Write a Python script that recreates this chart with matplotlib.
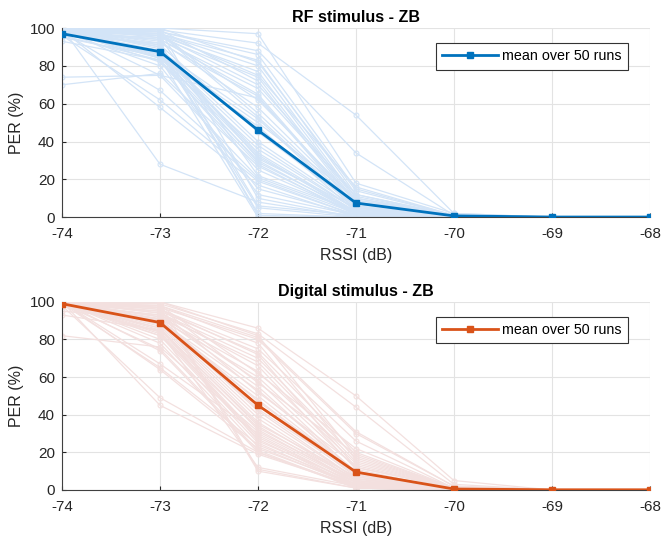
import matplotlib
matplotlib.use("Agg")
import matplotlib.pyplot as plt
import numpy as np

plt.rcParams['font.family'] = ['Liberation Sans', 'DejaVu Sans']

rssi = [-74, -73, -72, -71, -70, -69, -68]
xticklabels = ['-74', '-73', '-72', '-71', '-70', '-69', '-68']

rf_mean = [97, 87.5, 46, 7.5, 0.7, 0.1, 0.1]
dig_mean = [99, 89, 45, 9.5, 0.5, 0.1, 0.1]

rf_runs = [
    [100, 100, 97, 18, 2, 0, 0], [100, 99, 92, 54, 2, 0, 0], [99, 98, 88, 34, 1, 0, 0],
    [100, 98, 86, 15, 1, 0, 0], [98, 97, 83, 12, 1, 0, 0], [100, 97, 80, 10, 1, 0, 0],
    [99, 96, 77, 9, 1, 0, 0], [97, 95, 74, 8, 1, 0, 0], [100, 99, 72, 7, 1, 0, 0],
    [98, 96, 70, 12, 1, 0, 0], [99, 94, 65, 6, 0, 0, 0], [96, 92, 64, 5, 0, 0, 0],
    [74, 75, 63, 8, 1, 0, 0], [100, 98, 55, 6, 0, 0, 0], [99, 97, 53, 5, 0, 0, 0],
    [98, 88, 52, 4, 1, 0, 0], [97, 86, 50, 10, 1, 0, 0], [95, 85, 48, 3, 0, 0, 0],
    [100, 84, 36, 4, 0, 0, 0], [99, 88, 34, 3, 0, 0, 0], [97, 87, 33, 2, 0, 0, 0],
    [100, 90, 31, 5, 1, 0, 0], [93, 83, 30, 2, 0, 0, 0], [98, 86, 29, 3, 0, 0, 0],
    [99, 82, 28, 1, 0, 0, 0], [70, 76, 27, 2, 0, 0, 0], [100, 75, 21, 2, 0, 0, 0],
    [98, 67, 20, 1, 0, 0, 0], [96, 62, 19, 1, 0, 0, 0], [99, 58, 17, 0, 0, 0, 0],
    [100, 28, 8, 0, 0, 0, 0], [97, 99, 10, 0, 0, 0, 0], [100, 92, 6, 1, 0, 0, 0],
    [99, 90, 2, 0, 0, 0, 0], [98, 84, 0, 0, 0, 0, 0], [100, 100, 82, 14, 1, 0, 0],
    [99, 97, 75, 16, 1, 0, 0], [97, 94, 68, 11, 1, 0, 0], [100, 96, 62, 9, 1, 0, 0],
    [99, 93, 58, 7, 1, 0, 0], [98, 91, 45, 6, 0, 0, 0], [100, 89, 40, 5, 0, 0, 0],
    [97, 87, 38, 4, 0, 0, 0], [99, 85, 32, 3, 0, 0, 0], [96, 83, 25, 2, 0, 0, 0],
    [100, 95, 22, 3, 0, 0, 0], [98, 80, 15, 1, 0, 0, 0], [99, 86, 12, 1, 0, 0, 0],
    [97, 88, 5, 0, 0, 0, 0], [100, 91, 1, 0, 0, 0, 0],
]

dig_runs = [
    [100, 100, 86, 50, 5, 0, 0], [100, 99, 83, 44, 3, 0, 0], [99, 98, 81, 31, 2, 0, 0],
    [100, 97, 80, 30, 2, 0, 0], [100, 96, 75, 26, 1, 0, 0], [99, 95, 73, 20, 1, 0, 0],
    [100, 94, 70, 17, 1, 0, 0], [98, 93, 68, 15, 1, 0, 0], [100, 92, 63, 14, 1, 0, 0],
    [95, 91, 60, 12, 1, 0, 0], [100, 90, 53, 10, 0, 0, 0], [99, 89, 50, 9, 0, 0, 0],
    [100, 88, 48, 8, 0, 0, 0], [93, 85, 35, 7, 0, 0, 0], [100, 82, 33, 6, 0, 0, 0],
    [82, 76, 31, 5, 0, 0, 0], [100, 67, 30, 4, 0, 0, 0], [99, 65, 24, 3, 0, 0, 0],
    [100, 64, 22, 3, 0, 0, 0], [98, 49, 20, 2, 0, 0, 0], [100, 45, 19, 2, 0, 0, 0],
    [99, 99, 11, 1, 0, 0, 0], [100, 97, 10, 1, 0, 0, 0], [100, 100, 82, 18, 1, 0, 0],
    [99, 98, 78, 16, 1, 0, 0], [100, 96, 72, 12, 1, 0, 0], [100, 94, 66, 11, 0, 0, 0],
    [99, 93, 58, 9, 0, 0, 0], [100, 92, 55, 8, 0, 0, 0], [98, 91, 45, 7, 0, 0, 0],
    [100, 90, 42, 6, 0, 0, 0], [99, 89, 40, 6, 0, 0, 0], [100, 88, 38, 5, 0, 0, 0],
    [100, 87, 36, 5, 0, 0, 0], [99, 86, 34, 4, 0, 0, 0], [100, 85, 32, 4, 0, 0, 0],
    [98, 84, 29, 3, 0, 0, 0], [100, 83, 28, 3, 0, 0, 0], [99, 82, 27, 2, 0, 0, 0],
    [100, 80, 25, 2, 0, 0, 0], [100, 78, 23, 2, 0, 0, 0], [99, 75, 21, 1, 0, 0, 0],
    [100, 74, 20, 1, 0, 0, 0], [100, 98, 62, 22, 1, 0, 0], [99, 97, 57, 19, 1, 0, 0],
    [100, 95, 52, 13, 1, 0, 0], [100, 91, 47, 10, 0, 0, 0], [99, 90, 43, 8, 0, 0, 0],
    [100, 86, 26, 4, 0, 0, 0], [100, 84, 12, 2, 0, 0, 0],
]

fig = plt.figure(figsize=(6.62, 5.39), dpi=100)
ax1 = fig.add_axes([0.0937, 0.597, 0.888, 0.351])
ax2 = fig.add_axes([0.0937, 0.091, 0.888, 0.349])

def draw(ax, runs, mean, run_color, mean_color, title):
    for r in runs:
        ax.plot(rssi, r, '-o', color=run_color, lw=0.9, ms=3.5, mfc='none', mew=0.8, zorder=2)
    ax.plot(rssi, mean, '-s', color=mean_color, lw=2, ms=5, mfc=mean_color,
            label='mean over 50 runs', zorder=5)
    ax.set_xlim(-74, -68)
    ax.set_ylim(0, 100)
    ax.set_xticks(rssi)
    ax.set_xticklabels(xticklabels)
    ax.set_yticks([0, 20, 40, 60, 80, 100])
    ax.grid(True, color='#e3e3e3', lw=0.8, zorder=0)
    ax.set_axisbelow(True)
    for s in ['top', 'right']:
        ax.spines[s].set_visible(False)
    for s in ['left', 'bottom']:
        ax.spines[s].set_color('#404040')
    ax.tick_params(labelsize=11, colors='#262626', length=3, direction='in')
    ax.tick_params(axis='x', pad=7)
    ax.tick_params(axis='y', pad=5)
    ax.set_xlabel('RSSI (dB)', fontsize=11.5, color='#262626', labelpad=5)
    ax.set_ylabel('PER (%)', fontsize=11.5, color='#262626', labelpad=4)
    ax.set_title(title, fontsize=11.5, fontweight='bold', pad=4)
    leg = ax.legend(loc='upper right', bbox_to_anchor=(0.975, 0.96), fontsize=10.3,
                    fancybox=False, edgecolor='#333333', framealpha=1,
                    handlelength=3.9, borderpad=0.45, handletextpad=0.3)
    leg.get_frame().set_linewidth(0.8)

draw(ax1, rf_runs, rf_mean, '#d3e4f7', '#0072BD', 'RF stimulus - ZB')
draw(ax2, dig_runs, dig_mean, '#f3e0df', '#D95319', 'Digital stimulus - ZB')

fig.savefig('out.png', dpi=100)
